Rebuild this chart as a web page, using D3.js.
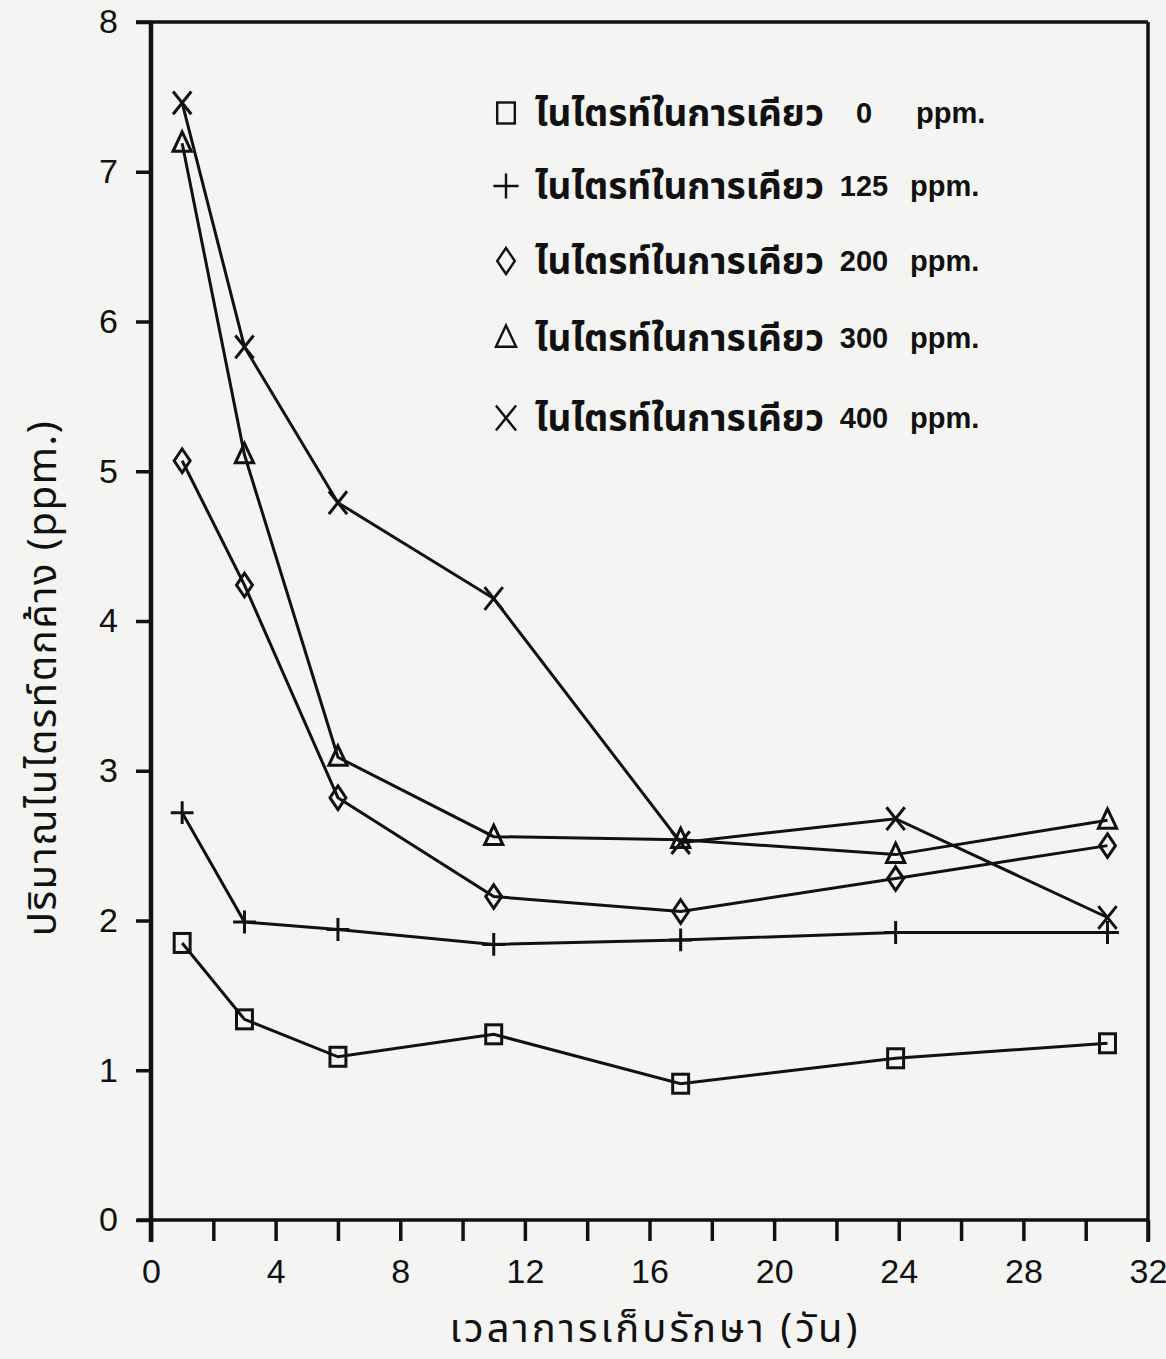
<!DOCTYPE html>
<html><head><meta charset="utf-8">
<script src="https://cdn.jsdelivr.net/npm/d3@7"></script>
<style>
body{margin:0;background:#f4f4f2;}
svg{display:block;}
</style></head>
<body>
<svg id="chart" width="1166" height="1359"></svg>
<script>
const days = [1, 3, 6, 11, 17, 23.9, 30.7];
const seriesLabels = ["0", "125", "200", "300", "400"];
const v0   = [1.85, 1.34, 1.09, 1.24, 0.91, 1.08, 1.18];
const v125 = [2.72, 1.99, 1.94, 1.84, 1.87, 1.92, 1.92];
const v200 = [5.07, 4.24, 2.82, 2.16, 2.06, 2.28, 2.50];
const v300 = [7.19, 5.11, 3.09, 2.56, 2.54, 2.44, 2.67];
const v400 = [7.46, 5.83, 4.79, 4.15, 2.52, 2.68, 2.02];
const markerTypes = ["square", "plus", "diamond", "triangle", "cross"];
const xTicks = d3.range(0, 33, 2);
const xTickLabels = [0, 4, 8, 12, 16, 20, 24, 28, 32];
const yTicks = [0, 1, 2, 3, 4, 5, 6, 7, 8];
const legendText = "ไนไตรท์ในการเคียว";
const xTitle = "เวลาการเก็บรักษา (วัน)";
const yTitle = "ปริมาณไนไตรท์ตกค้าง (ppm.)";

(function () {
const series = [v0, v125, v200, v300, v400];
const thaiFont = "'Noto Sans Thai','Loma','Garuda','Tlwg Typo','Norasi','Noto Sans','DejaVu Sans',sans-serif";
const numFont = "'Liberation Sans', Arial, sans-serif";

const svg = d3.select("#chart");
const pL = 151, pR = 1148, pT = 22, pB = 1220;
const x = d3.scaleLinear().domain([0, 32]).range([pL, pR]);
const y = d3.scaleLinear().domain([0, 8]).range([pB, pT]);

// frame top and right
svg.append("line").attr("x1", pL - 15).attr("x2", pR).attr("y1", pT).attr("y2", pT)
  .attr("stroke", "#111").attr("stroke-width", 3.5);
svg.append("line").attr("x1", pR).attr("x2", pR).attr("y1", pT).attr("y2", pB + 22)
  .attr("stroke", "#111").attr("stroke-width", 3.5);

// y axis
const yAxis = d3.axisLeft(y).tickValues(yTicks).tickSize(15).tickSizeOuter(0).tickPadding(18)
  .tickFormat(d3.format("d"));
const gy = svg.append("g").attr("transform", `translate(${pL},0)`).call(yAxis);
gy.select(".domain").attr("stroke", "#111").attr("stroke-width", 4.5)
  .attr("d", `M0,${pT}V${pB + 22}`);
gy.selectAll(".tick line").attr("stroke", "#111").attr("stroke-width", 3.5);
gy.selectAll(".tick text").attr("font-family", numFont).attr("font-size", 34).attr("fill", "#111");

// x axis
const xAxis = d3.axisBottom(x).tickValues(xTicks).tickSize(21).tickSizeOuter(0).tickPadding(18)
  .tickFormat(d => xTickLabels.includes(d) ? d : "");
const gx = svg.append("g").attr("transform", `translate(0,${pB})`).call(xAxis);
gx.select(".domain").attr("stroke", "#111").attr("stroke-width", 3.5)
  .attr("d", `M${pL - 14},0H${pR}`);
gx.selectAll(".tick line").attr("stroke", "#111").attr("stroke-width", 3.5);
gx.selectAll(".tick text").attr("font-family", numFont).attr("font-size", 34).attr("fill", "#111");

// markers
function marker(g, type, cx, cy, s) {
  let el;
  if (type === "square") {
    el = g.append("rect").attr("x", cx - s * 0.42).attr("y", cy - s * 0.5).attr("width", s * 0.84).attr("height", s * 1.0);
  } else if (type === "plus") {
    el = g.append("path").attr("d", `M${cx - s * 0.6},${cy}H${cx + s * 0.6}M${cx},${cy - s * 0.6}V${cy + s * 0.6}`);
  } else if (type === "diamond") {
    el = g.append("path").attr("d", `M${cx},${cy - s * 0.62}L${cx + s * 0.42},${cy}L${cx},${cy + s * 0.62}L${cx - s * 0.42},${cy}Z`);
  } else if (type === "triangle") {
    el = g.append("path").attr("d", `M${cx},${cy - s * 0.6}L${cx + s * 0.48},${cy + s * 0.42}L${cx - s * 0.48},${cy + s * 0.42}Z`);
  } else {
    el = g.append("path").attr("d", `M${cx - s * 0.48},${cy - s * 0.6}L${cx + s * 0.48},${cy + s * 0.6}M${cx + s * 0.48},${cy - s * 0.6}L${cx - s * 0.48},${cy + s * 0.6}`);
  }
  el.attr("stroke", "#111").attr("stroke-width", 3).attr("fill", "none");
  return el;
}

const line = d3.line().x(d => x(d[0])).y(d => y(d[1]));
series.forEach((vals, i) => {
  const pts = days.map((d, j) => [d, vals[j]]);
  const g = svg.append("g");
  g.append("path").attr("d", line(pts)).attr("fill", "none").attr("stroke", "#111").attr("stroke-width", 3);
  pts.forEach(p => marker(g, markerTypes[i], x(p[0]), y(p[1]), 19));
});

// legend
const legY = [113, 186, 261, 338, 418];
const lg = svg.append("g");
seriesLabels.forEach((lab, i) => {
  const cy = legY[i];
  const lm = lg.append("g");
  marker(lm, markerTypes[i], 506, cy, 21).attr("stroke-width", 2.4);
  lg.append("text").attr("x", 535).attr("y", cy + 13).text(legendText)
    .attr("font-family", thaiFont).attr("font-size", 37).attr("font-weight", "bold").attr("fill", "#111");
  lg.append("text").attr("x", 864).attr("y", cy + 10).text(lab).attr("text-anchor", "middle")
    .attr("font-family", numFont).attr("font-size", 29).attr("font-weight", "bold").attr("fill", "#111");
  lg.append("text").attr("x", i === 0 ? 916 : 910).attr("y", cy + 10).text("ppm.")
    .attr("font-family", numFont).attr("font-size", 29).attr("font-weight", "bold").attr("fill", "#111");
});

// axis titles
svg.append("text").attr("x", 655).attr("y", 1342).attr("text-anchor", "middle").text(xTitle)
  .attr("font-family", thaiFont).attr("font-size", 40).attr("letter-spacing", 3).attr("fill", "#111");
svg.append("text").attr("transform", "translate(56,678) rotate(-90)").attr("text-anchor", "middle").text(yTitle)
  .attr("font-family", thaiFont).attr("font-size", 40).attr("letter-spacing", 1.5).attr("fill", "#111");
})();
</script>
</body></html>
